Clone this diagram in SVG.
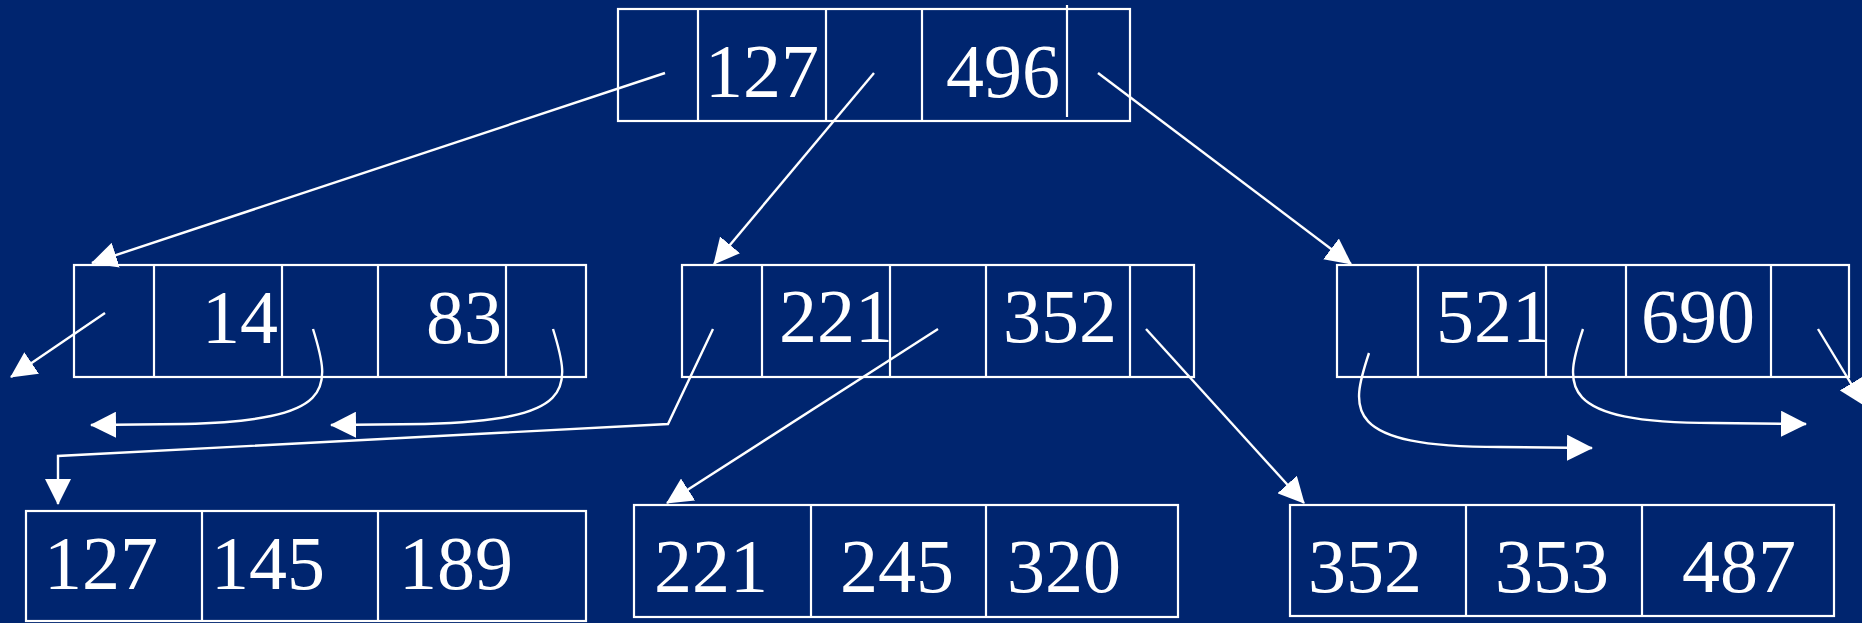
<svg xmlns="http://www.w3.org/2000/svg" width="1862" height="623" viewBox="0 0 1862 623">
<style>
.box{fill:none;stroke:#fff;stroke-width:2.2}
.div{stroke:#fff;stroke-width:2.2}
.t{font-family:"Liberation Serif","Times New Roman",serif;font-size:76px;fill:#fff}
.c{fill:none;stroke:#fff;stroke-width:2.4;marker-end:url(#ah)}
</style>
<defs>
<marker id="ah" markerUnits="userSpaceOnUse" markerWidth="26" markerHeight="26" viewBox="0 0 26 26" refX="25" refY="13" orient="auto"><path d="M0,0 L26,13 L0,26 z" fill="#fff"/></marker>
</defs>
<rect width="1862" height="623" fill="#00256F"/>
<g id="root">
<rect class="box" x="618" y="9" width="512" height="112"/>
<line class="div" x1="698" y1="9" x2="698" y2="121"/>
<line class="div" x1="826" y1="9" x2="826" y2="121"/>
<line class="div" x1="922" y1="9" x2="922" y2="121"/>
<line class="div" x1="1067" y1="5" x2="1067" y2="117"/>
<text class="t" x="705" y="97">127</text>
<text class="t" x="946" y="97">496</text>
</g>
<g id="node-left">
<rect class="box" x="74" y="265" width="512" height="112"/>
<line class="div" x1="154" y1="265" x2="154" y2="377"/>
<line class="div" x1="282" y1="265" x2="282" y2="377"/>
<line class="div" x1="378" y1="265" x2="378" y2="377"/>
<line class="div" x1="506" y1="265" x2="506" y2="377"/>
<text class="t" x="202" y="343">14</text>
<text class="t" x="426" y="343">83</text>
</g>
<g id="node-mid">
<rect class="box" x="682" y="265" width="512" height="112"/>
<line class="div" x1="762" y1="265" x2="762" y2="377"/>
<line class="div" x1="890" y1="265" x2="890" y2="377"/>
<line class="div" x1="986" y1="265" x2="986" y2="377"/>
<line class="div" x1="1130" y1="265" x2="1130" y2="377"/>
<text class="t" x="779" y="342">221</text>
<text class="t" x="1003" y="342">352</text>
</g>
<g id="node-right">
<rect class="box" x="1337" y="265" width="512" height="112"/>
<line class="div" x1="1418" y1="265" x2="1418" y2="377"/>
<line class="div" x1="1546" y1="265" x2="1546" y2="377"/>
<line class="div" x1="1626" y1="265" x2="1626" y2="377"/>
<line class="div" x1="1771" y1="265" x2="1771" y2="377"/>
<text class="t" x="1436" y="342">521</text>
<text class="t" x="1641" y="342">690</text>
</g>
<g id="leaf-1">
<rect class="box" x="26" y="511" width="560" height="110"/>
<line class="div" x1="202" y1="511" x2="202" y2="621"/>
<line class="div" x1="378" y1="511" x2="378" y2="621"/>
<text class="t" x="44" y="589">127</text>
<text class="t" x="211" y="589">145</text>
<text class="t" x="399" y="589">189</text>
</g>
<g id="leaf-2">
<rect class="box" x="634" y="505" width="544" height="112"/>
<line class="div" x1="811" y1="505" x2="811" y2="617"/>
<line class="div" x1="986" y1="505" x2="986" y2="617"/>
<text class="t" x="654" y="592">221</text>
<text class="t" x="840" y="592">245</text>
<text class="t" x="1007" y="592">320</text>
</g>
<g id="leaf-3">
<rect class="box" x="1290" y="505" width="544" height="111"/>
<line class="div" x1="1466" y1="505" x2="1466" y2="616"/>
<line class="div" x1="1642" y1="505" x2="1642" y2="616"/>
<text class="t" x="1308" y="592">352</text>
<text class="t" x="1495" y="592">353</text>
<text class="t" x="1682" y="592">487</text>
</g>
<g id="connectors">
<path class="c" d="M665,73 L92,263"/>
<path class="c" d="M874,73 L714,264"/>
<path class="c" d="M1098,73 L1351,264"/>
<path class="c" d="M105,313 L11,377"/>
<path class="c" d="M313,329 C332,390 335,420 185,424 L91,425"/>
<path class="c" d="M553,329 C572,390 575,420 425,424 L331,425"/>
<path class="c" d="M713,329 L668,424 L58,456 L58,504"/>
<path class="c" d="M938,329 L667,503"/>
<path class="c" d="M1146,329 L1304,503"/>
<path class="c" d="M1369,353 C1350,410 1342,447 1500,447 L1592,448"/>
<path class="c" d="M1583,329 C1564,386 1556,423 1714,423 L1806,424"/>
<path class="c" d="M1818,329 L1864,405"/>
</g>
</svg>
